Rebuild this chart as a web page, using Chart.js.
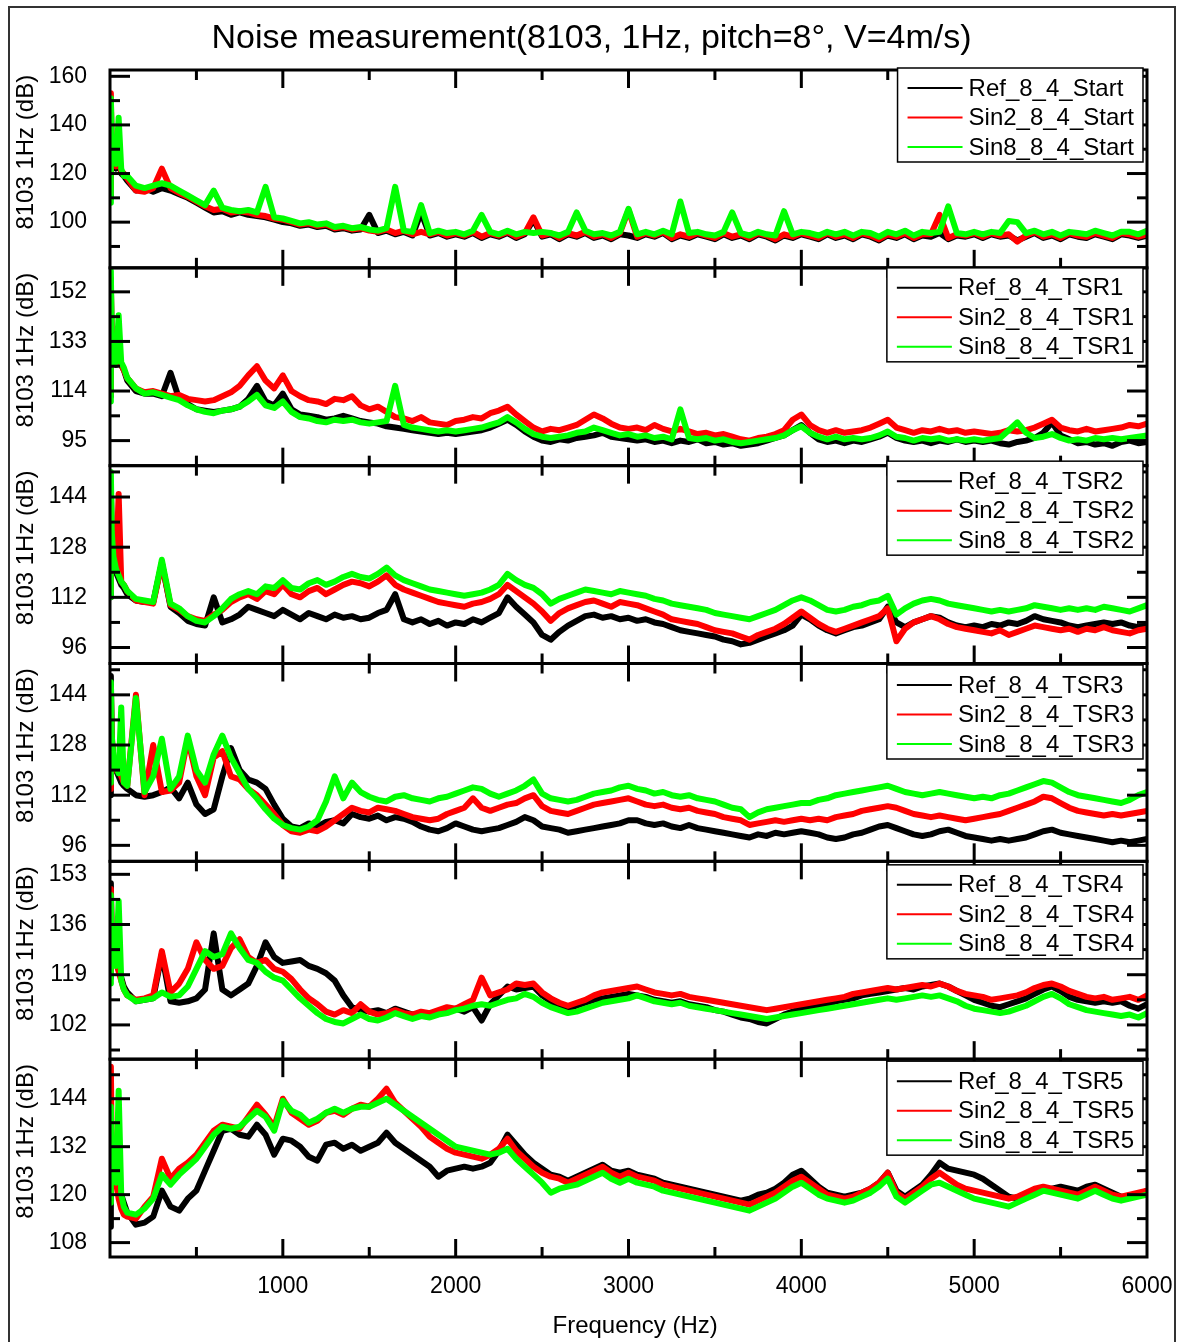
<!DOCTYPE html>
<html><head><meta charset="utf-8">
<script src="https://cdn.jsdelivr.net/npm/chart.js@4.4.1/dist/chart.umd.min.js"></script>
<style>
html,body{margin:0;padding:0;background:#fff;}
#wrap{position:relative;width:1181px;height:1342px;overflow:hidden;background:#fff;}
#frame{position:absolute;left:8px;top:6px;width:1168px;height:1345px;border:2px solid #333;box-sizing:border-box;}
#title{position:absolute;left:0;top:16px;width:1183px;text-align:center;font:34px 'Liberation Sans',Arial,sans-serif;line-height:40px;color:#000;white-space:nowrap;}
canvas{position:absolute;left:0;top:0;}
</style></head><body>
<div id="wrap"><div id="frame"></div><canvas id="c" width="1181" height="1342"></canvas><div id="title">Noise measurement(8103, 1Hz, pitch=8°, V=4m/s)</div></div>
<script>
const freq = [0,5,10,20,35,50,65,80,100,150,200,250,300,350,400,450,500,550,600,650,700,750,800,850,900,950,1000,
1050,1100,1150,1200,1250,1300,1350,1400,1450,1500,1550,1600,1650,1700,1750,1800,1850,1900,1950,2000,
2050,2100,2150,2200,2250,2300,2350,2400,2450,2500,2550,2600,2650,2700,2750,2800,2850,2900,2950,3000,
3050,3100,3150,3200,3250,3300,3350,3400,3450,3500,3550,3600,3650,3700,3750,3800,3850,3900,3950,4000,
4050,4100,4150,4200,4250,4300,4350,4400,4450,4500,4550,4600,4650,4700,4750,4800,4850,4900,4950,5000,
5050,5100,5150,5200,5250,5300,5350,5400,5450,5500,5550,5600,5650,5700,5750,5800,5850,5900,5950,6000];

// Panel 1: Start
const startRef = [110,150,127,124,122,130,120,119,117,113,114,112.5,114,113,111.5,110,108,106,104,104.5,103,104,103,102.5,102,101,100,
99.5,98.5,99,98,98.5,97,97.5,96.5,97,103,95.5,96.5,95,96,94.5,104,94.5,95.5,94,95,
94,95.5,93.5,95,94,95.5,93.5,95,101,94,95,93,95,94,95.5,93.5,94.5,93,95,94.5,
93.5,95,94,95.5,93,94.5,93.5,95,94,93,95,93.5,94.5,93,95,94,92.5,94.5,93.5,95,
94,93,95,93.5,94.5,93,95,94,92.5,94.5,93.5,95,93,94.5,94,95.5,93,94.5,94,95,
93.5,95,94,94.5,92.5,94,95.5,93.5,94.5,93,95,94,93.5,95,94,93,95,94.5,93.5,94.5];
const startSin2 = [112,153,129,125,123,127,121,120,118,113,112.5,114,122,114,112,110.5,108.5,106.5,105,105.5,104,104.5,104,103,102.5,101.5,101,
100,99,99.5,98.5,99,97.5,98,97,97.5,96.5,96,97,95.5,96.5,95,96,95,96,94.5,95.5,
94.5,96,94,95.5,94.5,96,94,95.5,102,94.5,95.5,93.5,95.5,94.5,96,94,95,93.5,95.5,105,
94,95.5,94.5,96,93.5,95,94,95.5,94.5,93.5,95.5,94,95,93.5,95.5,94.5,93,95,94,95.5,
94.5,93.5,95.5,94,95,93.5,95.5,94.5,93,95,94,95.5,93.5,95,95,103,93.5,95,94.5,95.5,
94,95.5,94.5,95,92,94.5,96,94,95,93.5,95.5,94.5,94,95.5,94.5,93.5,95.5,95,94,95];
const startSin8 = [108,151,133,126,124,143,122,119,119,115,114,115,116,115,113,111,109,107,113,106,105,104.5,105,104,114.5,102,101.5,
100.5,99.5,100,99,99.5,98,98.5,97.5,98,97,96.5,97.5,114.5,96.5,96,107,95.5,96.5,95.5,96,
95,96.5,103,96,95,96.5,95,96,95.5,96,95.5,94.5,96,104,96.5,95,95.5,94.5,96,105.5,
95,96,95,96.5,95,108.5,95.5,96,95,94.5,96,104,95.5,94.5,96,95,94.5,104.5,95,96,
95.5,94.5,96,95,96,94.5,96,95.5,94,96,95,96.5,94.5,96,95.5,96,106.5,95.5,95,96,
95,96,95.5,100.5,100,95.5,96.5,95,96,94.5,96,95.5,95,96.5,95.5,94.5,96,96,95,96.5];

// Panel 2: TSR1
const tsr1Ref = [112,156,130,126,124,128,124,122,118,114,113,113,112,121,111,109,107,106.5,106,106.5,107,108,111,116,110,108.5,113,
107,105,104.5,104,103,103.5,104.5,103.5,102.5,102,101.5,100.5,100,99.5,99,98.5,98,97.5,98,97.5,
98,98.5,99,100,101.5,103,101,98.5,96.5,95,94.5,95.5,95,96,96.5,97,98,96.5,96,95.5,
95,95.5,94.5,95,94,95,94.5,95.5,94,94.5,93.5,94,93,93.5,94,95,96,97,99,101,
98,95.5,94.5,95,94,95,94.5,95.5,96.5,98,96,95,94.5,95,94,95,94.5,95.5,94.5,95,
94.5,95,94,93.5,94.5,95,96,98,102,97,95.5,94,94.5,93.5,94,93,94.5,95,94,94.5];
const tsr1Sin2 = [113,157,131,127,125,128,124,122,119,115,113.5,114,113,112,112.5,111,110.5,110,110.5,112,113.5,116,120,123.5,118,115,120,
114,112,110.5,110,109,111,110.5,112,108.5,107,108,106,104,103.5,102.5,104,102,101.5,101,102.5,
103,104,103.5,105.5,106.5,108,105,102.5,100,98.5,99.5,99,100,101,103,105,103.5,101.5,100,99.5,
100,99,101,99.5,98.5,99.5,98.5,97.5,98,97,97.5,96.5,95.5,95,96,96.5,97.5,99,103,105,
101,99,98,99,98,98.5,99,100,101.5,103,100,99,98,99,98.5,99.5,98.5,99,98,98.5,
98,97.5,98,99,98.5,99,100,101.5,103,100,99,98.5,99.5,98.5,99,99.5,100,101,100.5,101.5];
const tsr1Sin8 = [110,160,133,127,125,143,125,123,119,115,113,113.5,112.5,111.5,110.5,108.5,107,106,105.5,106.5,107,108,110,112.5,108.5,107.5,110,
106,104,103.5,102.5,102,103,102.5,103,102,101.5,102,102.5,116,101,100,99.5,99,98.5,99,98.5,
99,99.5,100,101,102,104,102,99.5,97.5,96.5,96,96.5,97,98,98.5,100,99,98,97,97.5,
96.5,97,96,96.5,95.5,107,96,95.5,96,95,95.5,94.5,94,94.5,95,95.5,96,97,99,100.5,
98,96.5,95.5,96.5,95.5,96,95.5,96,97,98.5,96.5,96,95,96,95.5,96,95,95.5,95,95.5,
95,95.5,96,99,102,98,96,96.5,97.5,96,95,95.5,95,96,95.5,96,95.5,96,96.5,97];

// Panel 3: TSR2
const tsr2Ref = [112,148,132,124,120,118,116,115,113,111,110.5,110.5,123,109,107,104.5,103.5,103,112,104,105,106.5,109,108,107,106,108,
106.5,105,107,106,105,106.5,105.5,106,105,105.5,107,108,113,105,104,105,103.5,104.5,103,104,
103.5,105,104,105.5,107,112,109,106.5,104,100,98.5,101,103,104.5,106,106.5,105.5,106,105,105.5,
104.5,105,104,103.5,102.5,101.5,101,100.5,100,99.5,98.5,98,97,97.5,98.5,99.5,100.5,101.5,103,106.5,
105,103,101.5,100.5,101.5,102.5,103,104,105,109,104,102.5,104,105,106,105.5,104,103,102.5,103,
102.5,103.5,103,104,103.5,104.5,106,105,104.5,104,103,102.5,103,103.5,104,103.5,104,103,102.5,103];
const tsr2Sin2 = [114,146,132,125,121,145,117,116,114,111,110.5,110,123,109.5,108,106,105,104.5,106.5,108,110.5,112,113,111.5,114,113,116,
113,112,114,115,113,114.5,116,117,116.5,115.5,117,119,116,114.5,113.5,112.5,111.5,110.5,110,109.5,
109,110,110.5,111.5,113,116,114,112,110,107.5,104.5,107,108.5,109.5,110.5,111,110,109,110.5,110,
109.5,108.5,107.5,106.5,105,104.5,104,103.5,102.5,101.5,101,100.5,99.5,98.5,100,101,102,103.5,105.5,107.5,
105.5,103.5,102,101,102,103,104,105,106,108.5,98,102,104,105,106,105,103.5,102.5,102,101.5,
101,100.5,101.5,100,101,102,103,102.5,102,101.5,102,101,102,101.5,102.5,101.5,101,100.5,101.5,102];
const tsr2Sin8 = [112,152,133,125,121,119,117,116,114,111.5,111,110.5,124,110,108.5,106,104.5,104,106,108.5,111.5,113,114,113,115.5,115,117.5,
115,114.5,116.5,117.5,116,117,118.5,119.5,118.5,118,119.5,121.5,119,117.5,116.5,115.5,114.5,114,113.5,113,
112.5,113,113.5,114.5,116,119.5,117.5,116,115,113,110,111.5,112.5,113.5,114.5,114,113.5,113,114,113.5,
113,112.5,111.5,111,110,109.5,109,108.5,108,107,106.5,106,105.5,105,106,107,108,109.5,111,112,
111,109.5,108,107.5,108,109,109.5,110.5,111,112.5,106.5,108.5,110,111,111.5,111,110,109.5,109,108.5,
108,107.5,108,107.5,108,108.5,109.5,109,108.5,108,108.5,108,108.5,108,109,108.5,108,107.5,108.5,109.5];

// Panel 4: TSR3
const tsr3Ref = [112,150,130,123,120,118,116,115,114,112,111.5,112,113,114.5,111,116,109,106,107.5,118,127,120,117,116,114,109,104.5,
102,101.5,103,102,103.5,104,103,106,105,104.5,105.5,104,105,104.5,103.5,102,101,100.5,101.5,103,
102,101,100.5,101,101.5,102.5,103.5,105,104,102,101.5,101,100,100.5,101,101.5,102,102.5,103,104,
104,103,102.5,103,102,101.5,102.5,101.5,101,100.5,100,99.5,99,98.5,99.5,99,100,99.5,100,100.5,
100,99.5,98.5,98,98.5,99.5,100,101,102,102.5,101.5,100.5,99.5,99,99.5,100.5,101,100,99,98.5,
98,97.5,98,97.5,98,98.5,99.5,100.5,101,100,99.5,99,98.5,98,97.5,97,97.5,97,97.5,98];
const tsr3Sin2 = [114,146,131,124,120,120,118,116,115,144,112,128,113,113.5,116,130,118,112,124,126,118,117,114,112,109,106,102.5,
100.5,100,101,100.5,102,104,106,108,107,106.5,108,107.5,107,106,105,104.5,104,104.5,106,107,
108,111,108,107,108,109,109.5,111,112,108.5,107,106.5,106,107,108,109,109.5,110,110.5,111,
110,109,108.5,109,108,107.5,108,107,106.5,106,105,104.5,104,102.5,103,103.5,104,103.5,104,104.5,
104,104.5,104,105,105.5,106,107,107.5,108,108.5,108,107,106,105.5,105,105.5,105,104.5,104,104.5,
105,105.5,106,107,108,109,110,111.5,111,109.5,108,107,106.5,106,105.5,106,105.5,106,106.5,107];
const tsr3Sin8 = [116,148,131,124,121,119,140,116,115,143,113,118,130,114,118,131,120,116,125,131,124,119,114,111,107.5,104.5,102.5,
101.5,101,102,104,110,118,111,116,113,111.5,110.5,110,111.5,112,111,110.5,110,111,111.5,112.5,
113.5,114.5,114,112.5,111.5,112.5,113.5,115,117,112.5,111,110.5,110,110.5,111.5,112.5,113,113.5,114.5,115,
114,113.5,112.5,113,112,111.5,112,111,110.5,110,109,108,107.5,105,106.5,107.5,108,108.5,109,109.5,
109.5,110.5,111,112,112.5,113,113.5,114,114.5,115,114,113,112.5,112,112.5,113,112.5,112,111.5,111,
111.5,111,112,112.5,113.5,114.5,115.5,116.5,116,114.5,113,112,111.5,111,110.5,110,109.5,110.5,112,113];

// Panel 5: TSR4
const tsr4Ref = [118,150,131,126,124,121,118,115,113,110,110.5,111,126,110,109.5,110,111,114,133,114,112,114,116,122,130,125,123,
123.5,124,122,121,119.5,117,112,108,107,106.5,107,106,107.5,106.5,105.5,106,105,106,106.5,107.5,
106.5,108,103.5,109,112,115,114,114.5,115,112,110,108.5,107.5,108.5,109.5,110.5,111,111.5,112,112.5,
112,111.5,110.5,110,109.5,110,109,108.5,108,107,106.5,105.5,104.5,104,103,102.5,104,105.5,106.5,107.5,
108,108.5,109,110,110.5,111,112,112.5,113,113.5,114,114.5,114,115,115.5,116,115,113.5,112,110.5,
109.5,108.5,108,109,110,111,112.5,114,115,113.5,111.5,110.5,110,109.5,110,109.5,110,108.5,107.5,109];
const tsr4Sin2 = [120,148,132,126,123,120,117,114,112,110.5,111,112,127,113,116,121,130,124,121,122,128,131,125,123,124,121,120,
117.5,114,111,109,106.5,105.5,107,106,109,106.5,105.5,106,107,106,105.5,106.5,106,107,108,107.5,
109,110.5,118,112,113,114,116,115.5,116,113,111,109.5,108.5,109.5,110.5,112,113,113.5,114,114.5,
115,114,113,112.5,112,112.5,111.5,111,110.5,110,109.5,109,108.5,108,107.5,107,107.5,108,108.5,109,
109.5,110,110.5,111,111.5,112.5,113,113.5,114,114.5,114,114.5,115,115.5,115,116,115,113.5,112.5,112,
111.5,110.5,111,111.5,112,113,114.5,115.5,116,115,113.5,112.5,111.5,111,111.5,110.5,111,111.5,110.5,112];
const tsr4Sin8 = [116,146,131,125,122,144,117,114,112,110,110.5,111,113,111.5,112,115,121,127,125,126,133,128,124,123,120,118,117,
114,111,108.5,106,104,103,102.5,104,105.5,104,103.5,104.5,106,105,104,105,104.5,105.5,106,107,
107.5,108.5,109,108.5,109.5,110.5,111,112.5,111.5,109.5,108,107,106,106.5,107.5,108.5,109.5,110,110.5,111,
112,111,110,109.5,109,109.5,108.5,108,107.5,107,106.5,106,105.5,105,104.5,104,104.5,105,105.5,106,
106.5,107,107.5,108,108.5,109,109.5,110,110.5,111,110.5,111,111.5,112,111.5,112,111,110,108.5,107.5,
107,106.5,106,106.5,107.5,108.5,110,111.5,112.5,111,109,108,107,106.5,106,105.5,105,105.5,104.5,106];

// Panel 6: TSR5
const tsr5Ref = [112,138,130,127,124,122,120,118,115.5,112.5,113,114.5,121,117,116,119,121,126,131,136,136.5,135,134.5,137.5,135,130,134,
133.5,132,129.5,128.5,132.5,133,131.5,132.5,131,132,133,135.5,133,131.5,130,128.5,127,124.5,126,126.5,
127,126.5,127,128,131,135,132.5,130,128,126.5,125,124.5,123.5,124.5,125.5,126.5,127.5,126,125.5,126,
125,124.5,124,123,122.5,122,121.5,121,120.5,120,119.5,119,118.5,119,120,120.5,121.5,123,125,126,
124,122,120.5,120,119.5,120,120.5,121.5,123,125.5,121,119.5,121,122.5,125,128,126.5,126,125.5,125,
124,122.5,121,119.5,119,119.5,120.5,121,121.5,122,121.5,121,122,122.5,121.5,120.5,119.5,119.5,120,121];
const tsr5Sin2 = [120,152,132,127,123,119,116.5,115,114.5,114,117,119.5,129,124,126.5,128,130,133,136,137.5,137,136.5,139.5,142.5,140,137,144,
140.5,139,137.5,138.5,140.5,141,140,141.5,142.5,142,144,146.5,143,141,139,137,134.5,133,131.5,130.5,
130,129.5,129,130,131.5,134,131,129,127,125.5,124.5,124,123,124,125,126,127,125.5,124.5,125.5,
124.5,124,123.5,122.5,122,121.5,121,120.5,120,119.5,119,118.5,118,117.5,118.5,119.5,120.5,122,123.5,124.5,
123,121.5,120,119.5,119,119.5,120.5,121.5,123,125.5,120.5,119,120.5,122,124,125.5,124,122.5,121.5,121,
120.5,120,119.5,119,119.5,120.5,121.5,122,121.5,121,120.5,120,121,122,121,120,119.5,120,120.5,121];
const tsr5Sin8 = [118,142,128,125,123,146,120,117,115.5,115,116.5,119,125,122.5,125,127,129,132,135,137,136.5,137,139,141,139.5,136,143.5,
141,140,138,139,140.5,141.5,140.5,141.5,142,142,143,144,142.5,141,139.5,138,136.5,135,133.5,132,
131.5,131,130.5,130,130.5,131.5,129,127,125,123,120.5,121.5,122,122.5,123.5,124.5,125.5,124,123,124,
123,122.5,122,121,120.5,120,119.5,119,118.5,118,117.5,117,116.5,116,117,118,119,120.5,122,123,
121.5,120,119,118.5,118,118.5,119.5,120.5,122,124,119.5,118,119.5,121,122.5,123,122,121,120,119,
118.5,118,117.5,117,118,119,120,121,120.5,120,119.5,119,120,121,120,119,118.5,119,119.5,120];

const labelsStart = ['Ref_8_4_Start','Sin2_8_4_Start','Sin8_8_4_Start'];
const labelsTSR1 = ['Ref_8_4_TSR1','Sin2_8_4_TSR1','Sin8_8_4_TSR1'];
const labelsTSR2 = ['Ref_8_4_TSR2','Sin2_8_4_TSR2','Sin8_8_4_TSR2'];
const labelsTSR3 = ['Ref_8_4_TSR3','Sin2_8_4_TSR3','Sin8_8_4_TSR3'];
const labelsTSR4 = ['Ref_8_4_TSR4','Sin2_8_4_TSR4','Sin8_8_4_TSR4'];
const labelsTSR5 = ['Ref_8_4_TSR5','Sin2_8_4_TSR5','Sin8_8_4_TSR5'];

const ticksStart = [100,120,140,160];
const ticksTSR1 = [95,114,133,152];
const ticksTSR2 = [96,112,128,144];
const ticksTSR3 = [96,112,128,144];
const ticksTSR4 = [102,119,136,153];
const ticksTSR5 = [108,120,132,144];
const xTicks = [1000,2000,3000,4000,5000,6000];

const FONT = "'Liberation Sans', Arial, sans-serif";
const COLORS = ['#000000','#ff0000','#00ff00'];

const panels = [
  {series:[startRef,startSin2,startSin8], labels:labelsStart, ticks:ticksStart, min:81.2, max:162.6, legendDy:-2},
  {series:[tsr1Ref,tsr1Sin2,tsr1Sin8], labels:labelsTSR1, ticks:ticksTSR1, min:85.4, max:161.2, legendDy:0},
  {series:[tsr2Ref,tsr2Sin2,tsr2Sin8], labels:labelsTSR2, ticks:ticksTSR2, min:90.9, max:154, legendDy:-4.5},
  {series:[tsr3Ref,tsr3Sin2,tsr3Sin8], labels:labelsTSR3, ticks:ticksTSR3, min:90.9, max:154, legendDy:1.5},
  {series:[tsr4Ref,tsr4Sin2,tsr4Sin8], labels:labelsTSR4, ticks:ticksTSR4, min:90.4, max:157.4, legendDy:3.5},
  {series:[tsr5Ref,tsr5Sin2,tsr5Sin8], labels:labelsTSR5, ticks:ticksTSR5, min:104.4, max:153.9, legendDy:2}
];

const datasets = [];
panels.forEach((p,i)=>{
  p.series.forEach((s,j)=>{
    const pts = [];
    for (let k=0;k<freq.length && k<s.length;k++) pts.push({x:freq[k], y:s[k]});
    datasets.push({label:p.labels[j], yAxisID:'y'+(i+1), data:pts, borderColor:COLORS[j], backgroundColor:COLORS[j],
      borderWidth:6, pointRadius:0, order:3-j, fill:false, tension:0, borderJoinStyle:'round', borderCapStyle:'round'});
  });
});

const scales = {
  x: {type:'linear', position:'bottom', min:0, max:6000,
    grid:{display:false, drawTicks:false}, border:{display:false},
    afterBuildTicks: s => { s.ticks = xTicks.map(v=>({value:v})); },
    ticks:{padding:6, color:'#000', font:{size:23, family:FONT, lineHeight:2.1}, maxRotation:0, autoSkip:false, callback:v=>String(v)},
    title:{display:true, text:'  Frequency (Hz)', color:'#000', font:{size:24, family:FONT}, padding:{top:0,bottom:1}},
    afterFit: s => { s.height = 85; }
  }
};
panels.forEach((p,i)=>{
  scales['y'+(i+1)] = {type:'linear', position:'left', stack:'panels', stackWeight:1, weight:6-i,
    min:p.min, max:p.max,
    grid:{display:false, drawTicks:false}, border:{display:false},
    afterBuildTicks: s => { s.ticks = p.ticks.map(v=>({value:v})); },
    ticks:{padding:23, color:'#000', font:{size:23, family:FONT}, autoSkip:false, callback:v=>String(v)},
    title:{display:true, text:'     8103 1Hz (dB)', color:'#000', font:{size:24, family:FONT}, padding:{top:2,bottom:0}},
    afterFit: s => { s.width = 100; }
  };
});

const framePlugin = {
  id:'frames',
  afterDraw(chart){
    const ctx = chart.ctx, ca = chart.chartArea, xs = chart.scales.x;
    const seg = (x1,y1,x2,y2)=>{ctx.beginPath();ctx.moveTo(x1,y1);ctx.lineTo(x2,y2);ctx.stroke();};
    ctx.save();
    ctx.strokeStyle = '#000'; ctx.lineCap = 'butt';
    panels.forEach((p,i)=>{
      const ys = chart.scales['y'+(i+1)];
      const top = ys.top, bottom = ys.bottom;
      ctx.lineWidth = 3;
      for (let f=500; f<6000; f+=500){
        const len = f%1000===0 ? 18 : 10;
        const px = xs.getPixelForValue(f);
        seg(px, top, px, top+len);
        seg(px, bottom, px, bottom-len);
      }
      const half = (p.ticks[1]-p.ticks[0])/2;
      for (let k=-1; k<=2*p.ticks.length; k++){
        const v = p.ticks[0] + k*half;
        if (v < p.min || v > p.max) continue;
        const len = (((k%2)+2)%2)===0 ? 20 : 10;
        const py = ys.getPixelForValue(v);
        seg(ca.left, py, ca.left+len, py);
        seg(ca.right, py, ca.right-len, py);
      }
      ctx.strokeRect(ca.left, top, ca.right-ca.left, bottom-top);
    });
    ctx.font = '24px ' + FONT;
    ctx.textBaseline = 'middle';
    panels.forEach((p,i)=>{
      const ys = chart.scales['y'+(i+1)];
      const w = Math.max(...p.labels.map(t=>ctx.measureText(t).width)) + 80;
      const bx = ca.right - 4 - w, by = ys.top + p.legendDy, bh = 94;
      ctx.fillStyle = '#fff'; ctx.fillRect(bx, by, w, bh);
      ctx.lineWidth = 1.5; ctx.strokeStyle = '#000'; ctx.strokeRect(bx, by, w, bh);
      p.labels.forEach((t,j)=>{
        const cy = by + 20 + 29.5*j;
        ctx.strokeStyle = COLORS[j]; ctx.lineWidth = 2;
        seg(bx+10, cy, bx+65, cy);
        ctx.fillStyle = '#000';
        ctx.fillText(t, bx+71, cy+1);
      });
    });
    ctx.restore();
  }
};

new Chart(document.getElementById('c').getContext('2d'), {
  type:'line',
  data:{datasets},
  options:{
    responsive:false, animation:false, devicePixelRatio:1, events:[],
    layout:{padding:{left:10, top:70, right:34, bottom:0}},
    plugins:{legend:{display:false}, title:{display:false}, tooltip:{enabled:false}},
    scales
  },
  plugins:[framePlugin]
});
</script>
</body></html>
